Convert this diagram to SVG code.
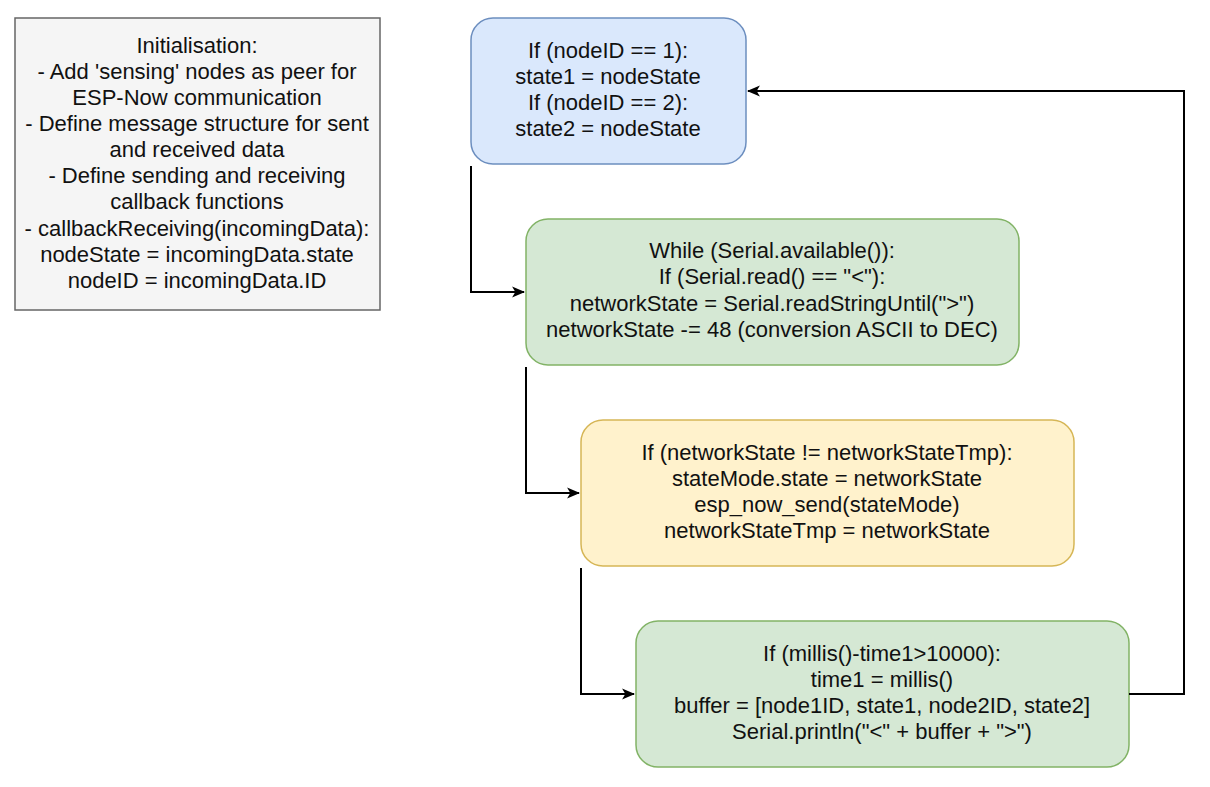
<svg xmlns="http://www.w3.org/2000/svg" width="1210" height="787" viewBox="0 0 1210 787">
<defs>
<marker id="arr" markerWidth="13" markerHeight="12" refX="11" refY="5" orient="auto" markerUnits="userSpaceOnUse" viewBox="0 0 12 10">
<path d="M0,0 L12,5 L0,10 L3,5 Z" fill="#000"/>
</marker>
<style>
text{font-family:"Liberation Sans",Arial,sans-serif;font-size:22px;fill:#111;text-anchor:middle}
.edge{fill:none;stroke:#000;stroke-width:2}
.blue{fill:#dae8fc;stroke:#6c8ebf;stroke-width:1.5}
.green{fill:#d5e8d4;stroke:#82b366;stroke-width:1.5}
.yellow{fill:#fff2cc;stroke:#d6b656;stroke-width:1.5}
.grey{fill:#f5f5f5;stroke:#666;stroke-width:1.5}
</style>
</defs>
<rect width="1210" height="787" fill="#fff"/>
<g id="init">
<rect class="grey" x="15" y="18" width="365" height="292"/>
<text x="197" y="53">Initialisation:</text>
<text x="197" y="79">- Add 'sensing' nodes as peer for</text>
<text x="197" y="105">ESP-Now communication</text>
<text x="197" y="131">- Define message structure for sent</text>
<text x="197" y="157">and received data</text>
<text x="197" y="183">- Define sending and receiving</text>
<text x="197" y="209">callback functions</text>
<text x="197" y="236">- callbackReceiving(incomingData):</text>
<text x="197" y="262">nodeState = incomingData.state</text>
<text x="197" y="288">nodeID = incomingData.ID</text>
</g>
<g id="node1">
<rect class="blue" x="471" y="18" width="275" height="146" rx="22"/>
<text x="608" y="58">If (nodeID == 1):</text>
<text x="608" y="84">state1 = nodeState</text>
<text x="608" y="110">If (nodeID == 2):</text>
<text x="608" y="136">state2 = nodeState</text>
</g>
<g id="node2">
<rect class="green" x="526" y="219" width="493" height="146" rx="22"/>
<text x="772" y="258">While (Serial.available()):</text>
<text x="772" y="284">If (Serial.read() == "&lt;"):</text>
<text x="772" y="311">networkState = Serial.readStringUntil("&gt;")</text>
<text x="772" y="337">networkState -= 48 (conversion ASCII to DEC)</text>
</g>
<g id="node3">
<rect class="yellow" x="581" y="420" width="493" height="146" rx="22"/>
<text x="827" y="460">If (networkState != networkStateTmp):</text>
<text x="827" y="486">stateMode.state = networkState</text>
<text x="827" y="512">esp_now_send(stateMode)</text>
<text x="827" y="538">networkStateTmp = networkState</text>
</g>
<g id="node4">
<rect class="green" x="636" y="621" width="493" height="146" rx="22"/>
<text x="882" y="661">If (millis()-time1&gt;10000):</text>
<text x="882" y="687">time1 = millis()</text>
<text x="882" y="713">buffer = [node1ID, state1, node2ID, state2]</text>
<text x="882" y="739">Serial.println("&lt;" + buffer + "&gt;")</text>
</g>
<g id="connectors">
<path class="edge" d="M471,166 L471,292 L524,292" marker-end="url(#arr)"/>
<path class="edge" d="M526,367 L526,493 L579,493" marker-end="url(#arr)"/>
<path class="edge" d="M581,568 L581,694 L634,694" marker-end="url(#arr)"/>
<path class="edge" d="M1129,694 L1184,694 L1184,91 L748,91" marker-end="url(#arr)"/>
</g>
</svg>
